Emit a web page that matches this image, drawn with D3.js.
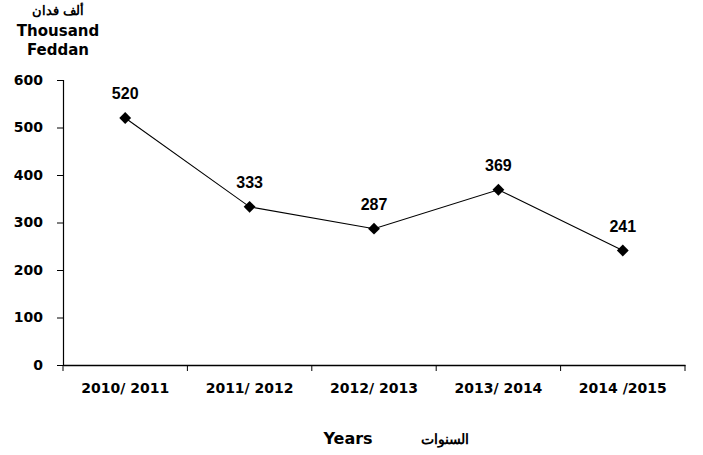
<!DOCTYPE html>
<html>
<head>
<meta charset="utf-8">
<script src="https://cdn.jsdelivr.net/npm/d3@7"></script>
<style>
  body { margin: 0; background: #fff; }
  svg { font-family: "DejaVu Sans", sans-serif; font-weight: bold; }
</style>
</head>
<body>
<svg id="chart"></svg>
<script>
"use strict";

// data
const years = ["2010/ 2011", "2011/ 2012", "2012/ 2013", "2013/ 2014", "2014 /2015"];
const area = [520, 333, 287, 369, 241];
const yTicks = [0, 100, 200, 300, 400, 500, 600];

const width = 703;
const height = 455;
const margin = { top: 80, right: 18, bottom: 90, left: 63 };
const wideFont = "DejaVu Sans, sans-serif";

const svg = d3.select("#chart").attr("width", width).attr("height", height);

const x = d3.scaleBand()
  .domain(years)
  .range([margin.left, width - margin.right]);

const y = d3.scaleLinear()
  .domain([0, 600])
  .range([height - margin.bottom, margin.top]);

// Y axis
const yAxis = svg.append("g")
  .attr("transform", `translate(${margin.left},0)`)
  .call(d3.axisLeft(y).tickValues(yTicks).tickSize(6).tickPadding(14));
yAxis.select(".domain").attr("stroke", "#000").attr("stroke-width", 1.2);
yAxis.selectAll("text")
  .attr("font-size", 14).attr("font-weight", "bold").attr("fill", "#000")
  .attr("font-family", wideFont);

// X axis, ticks on band edges
const xAxis = svg.append("g")
  .attr("transform", `translate(0,${y(0)})`)
  .call(d3.axisBottom(x).tickSize(0).tickPadding(18));
xAxis.select(".domain").attr("stroke", "#000").attr("stroke-width", 1.5);
xAxis.selectAll("text")
  .attr("font-size", 14).attr("font-weight", "bold").attr("fill", "#000")
  .attr("font-family", wideFont);
const edges = years.map((d) => x(d)).concat([x.range()[1]]);
xAxis.selectAll("line.edge")
  .data(edges)
  .join("line")
  .attr("class", "edge")
  .attr("x1", (d) => d).attr("x2", (d) => d)
  .attr("y1", 0).attr("y2", 6)
  .attr("stroke", "#000");

// line
const cx = (d, i) => x(years[i]) + x.bandwidth() / 2;
svg.append("path")
  .datum(area)
  .attr("fill", "none")
  .attr("stroke", "#000")
  .attr("stroke-width", 1.1)
  .attr("d", d3.line().x(cx).y((d) => y(d)));

// markers
svg.selectAll("path.mark")
  .data(area)
  .join("path")
  .attr("class", "mark")
  .attr("d", d3.symbol(d3.symbolSquare, 70))
  .attr("transform", (d, i) => `translate(${cx(d, i)},${y(d)}) rotate(45)`)
  .attr("fill", "#000");

// value labels
svg.selectAll("text.val")
  .data(area)
  .join("text")
  .attr("class", "val")
  .attr("x", cx)
  .attr("y", (d) => y(d) - 19)
  .attr("text-anchor", "middle")
  .attr("font-family", "Liberation Sans, Arial, sans-serif")
  .attr("font-size", 16)
  .text((d) => d);

// unit title
const unit = svg.append("g").attr("text-anchor", "middle").attr("font-size", 15);
unit.append("text").attr("x", 58).attr("y", 15).attr("font-size", 13)
  .attr("font-family", "Liberation Sans, Arial, sans-serif").text("ألف فدان");
unit.append("text").attr("x", 58).attr("y", 36).text("Thousand");
unit.append("text").attr("x", 58).attr("y", 55).text("Feddan");

// x title
svg.append("text").attr("x", 348).attr("y", 444).attr("text-anchor", "middle")
  .attr("font-size", 16).text("Years");
svg.append("text").attr("x", 445).attr("y", 444).attr("text-anchor", "middle")
  .attr("font-family", "Liberation Sans, Arial, sans-serif")
  .attr("font-size", 14).text("السنوات");
</script>
</body>
</html>
